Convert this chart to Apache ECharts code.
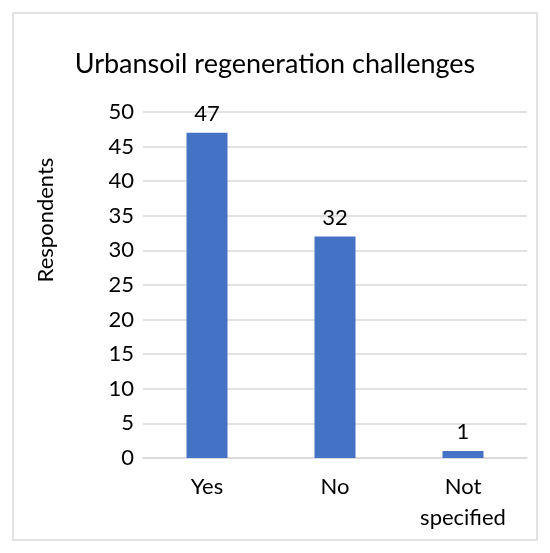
<!DOCTYPE html>
<html>
<head>
<meta charset="utf-8">
<script src="https://cdn.jsdelivr.net/npm/echarts@6/dist/echarts.min.js"></script>
<style>
  html, body { margin: 0; padding: 0; background: #fff; }
  #chart { width: 550px; height: 553px; }
</style>
</head>
<body>
<div id="chart"></div>
<script>
let categories = ['Yes', 'No', 'Not\nspecified']
let respondents = [47, 32, 1]
let yTicks = [0, 50, 5]  // min, max, step

let chart = echarts.init(document.getElementById('chart'))
let option = {
  textStyle: {
    fontFamily: 'Lato'
  },
  graphic: [
    {
      type: 'rect',
      shape: {x: 13, y: 13, width: 524, height: 527},
      style: {fill: 'none', stroke: '#d9d9d9', lineWidth: 1.5},
      silent: true
    }
  ],
  title: {
    text: 'Urbansoil regeneration challenges',
    left: 'center',
    top: 46,
    textStyle: {
      fontFamily: 'Lato',
      fontSize: 27,
      fontWeight: 'normal',
      color: '#000'
    }
  },
  grid: {
    left: 143,
    right: 23,
    top: 112,
    bottom: 95
  },
  xAxis: {
    type: 'category',
    data: categories,
    axisTick: {show: false},
    axisLine: {
      lineStyle: {color: '#d9d9d9', width: 1.5}
    },
    axisLabel: {
      color: '#000',
      fontSize: 22,
      margin: 13,
      lineHeight: 31
    }
  },
  yAxis: {
    type: 'value',
    min: yTicks[0],
    max: yTicks[1],
    interval: yTicks[2],
    name: 'Respondents',
    nameLocation: 'middle',
    nameGap: 86,
    nameRotate: 90,
    nameTextStyle: {
      color: '#000',
      fontSize: 22,
      padding: [0, 0, 0, 130]
    },
    axisLine: {show: false},
    axisTick: {show: false},
    axisLabel: {
      color: '#000',
      fontSize: 22,
      margin: 9
    },
    splitLine: {
      lineStyle: {color: '#d9d9d9', width: 1.5}
    }
  },
  series: [
    {
      type: 'bar',
      data: respondents,
      barWidth: 41,
      itemStyle: {
        color: '#4472c4'
      },
      label: {
        show: true,
        position: 'top',
        distance: 8,
        color: '#000',
        fontSize: 22
      }
    }
  ]
};
chart.setOption(option)
</script>
</body>
</html>
